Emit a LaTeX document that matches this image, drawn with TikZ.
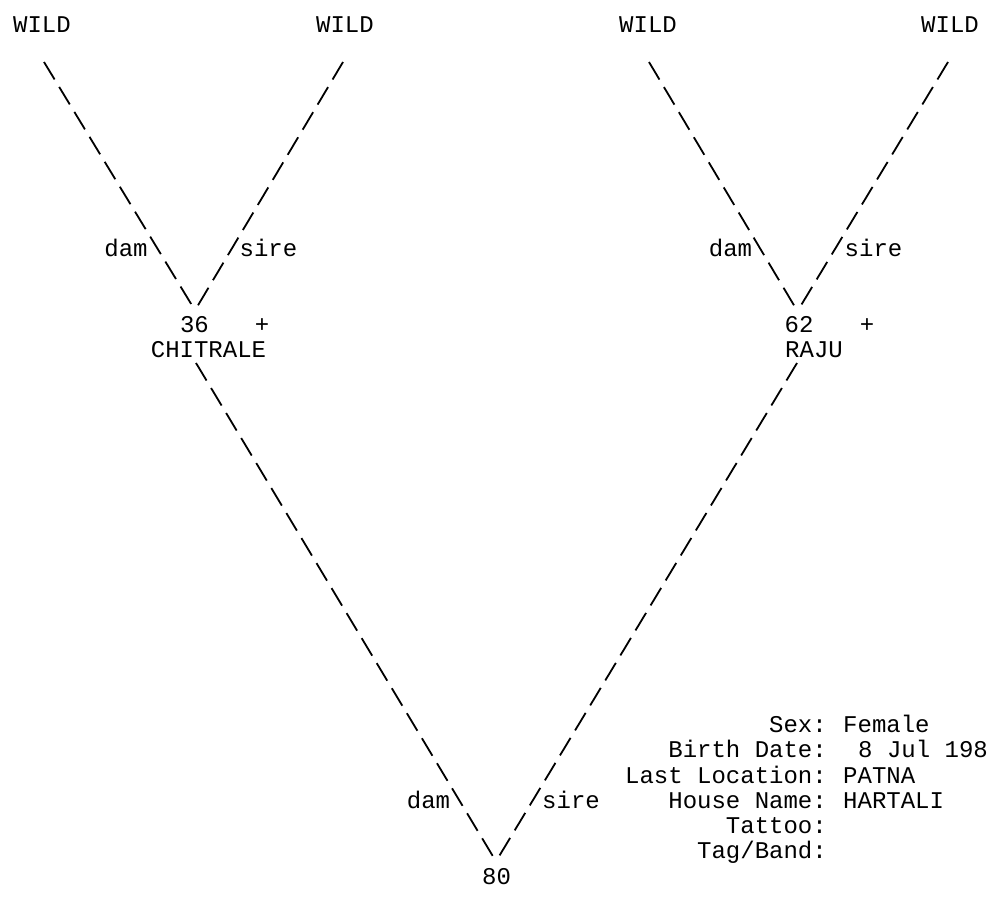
\documentclass[tikz,border=0pt]{standalone}
\usepackage{fontspec}
\setmonofont{Liberation Mono}
\usetikzlibrary{positioning}

\begin{document}
\begin{tikzpicture}[
  x=1pt, y=-1pt,
  every node/.style={inner sep=0pt, font=\ttfamily\fontsize{24}{24}\selectfont},
  txt/.style={anchor=base},
  lbl/.style={anchor=base east},
  val/.style={anchor=base west},
  link/.style={line width=1.8pt, dash pattern=on 20.4pt off 8.8pt}
]
\useasboundingbox (0,0) rectangle (988,898);

% Ancestors
\node[txt] (w1) at (42,32)  {WILD};
\node[txt] (w2) at (345,32) {WILD};
\node[txt] (w3) at (648,32) {WILD};
\node[txt] (w4) at (950,32) {WILD};

% Parents
\node[txt] (n36) at (194.5,332) {36};
\node[txt] (p36) at (262,332)   {+};
\node[txt] (chitrale) at (208.5,357) {CHITRALE};
\node[txt] (n62) at (799,332) {62};
\node[txt] (p62) at (867,332) {+};
\node[txt] (raju) at (814,357) {RAJU};

% Subject
\node[txt] (n80) at (496.5,884) {80};

% Line ends
\coordinate (t1) at (44,62);
\coordinate (t2) at (343,62);
\coordinate (t3) at (649,62);
\coordinate (t4) at (948,62);
\coordinate (j36l) at (193,307);
\coordinate (j36r) at (197,307);
\coordinate (j62l) at (795,307);
\coordinate (j62r) at (800,307);
\coordinate (s36) at (196,363);
\coordinate (s62) at (797,363);
\coordinate (j80l) at (494,858);
\coordinate (j80r) at (498,858);

% Links
\draw[link] (t1) -- (j36l);
\draw[link] (t2) -- (j36r);
\draw[link] (t3) -- (j62l);
\draw[link] (t4) -- (j62r);
\draw[link] (s36) -- (j80l);
\draw[link] (s62) -- (j80r);

% Link labels
\node[txt] (dam36)  at (126,256)   {dam};
\node[txt] (sire36) at (268.5,256) {sire};
\node[txt] (dam62)  at (730.5,256) {dam};
\node[txt] (sire62) at (873.5,256) {sire};
\node[txt] (dam80)  at (428.5,808) {dam};
\node[txt] (sire80) at (571,808)   {sire};

% Details
\node[lbl] (ksex)   at (827,732) {Sex:};
\node[lbl] (kbirth) at (827,757) {Birth Date:};
\node[lbl] (kloc)   at (827,783) {Last Location:};
\node[lbl] (khouse) at (827,808) {House Name:};
\node[lbl] (ktat)   at (827,833) {Tattoo:};
\node[lbl] (ktag)   at (827,858) {Tag/Band:};
\node[val] (vsex)   at (843,732) {Female};
\node[val] (vbirth) at (858,757) {8 Jul 198};
\node[val] (vloc)   at (843,783) {PATNA};
\node[val] (vhouse) at (843,808) {HARTALI};

\end{tikzpicture}
\end{document}
